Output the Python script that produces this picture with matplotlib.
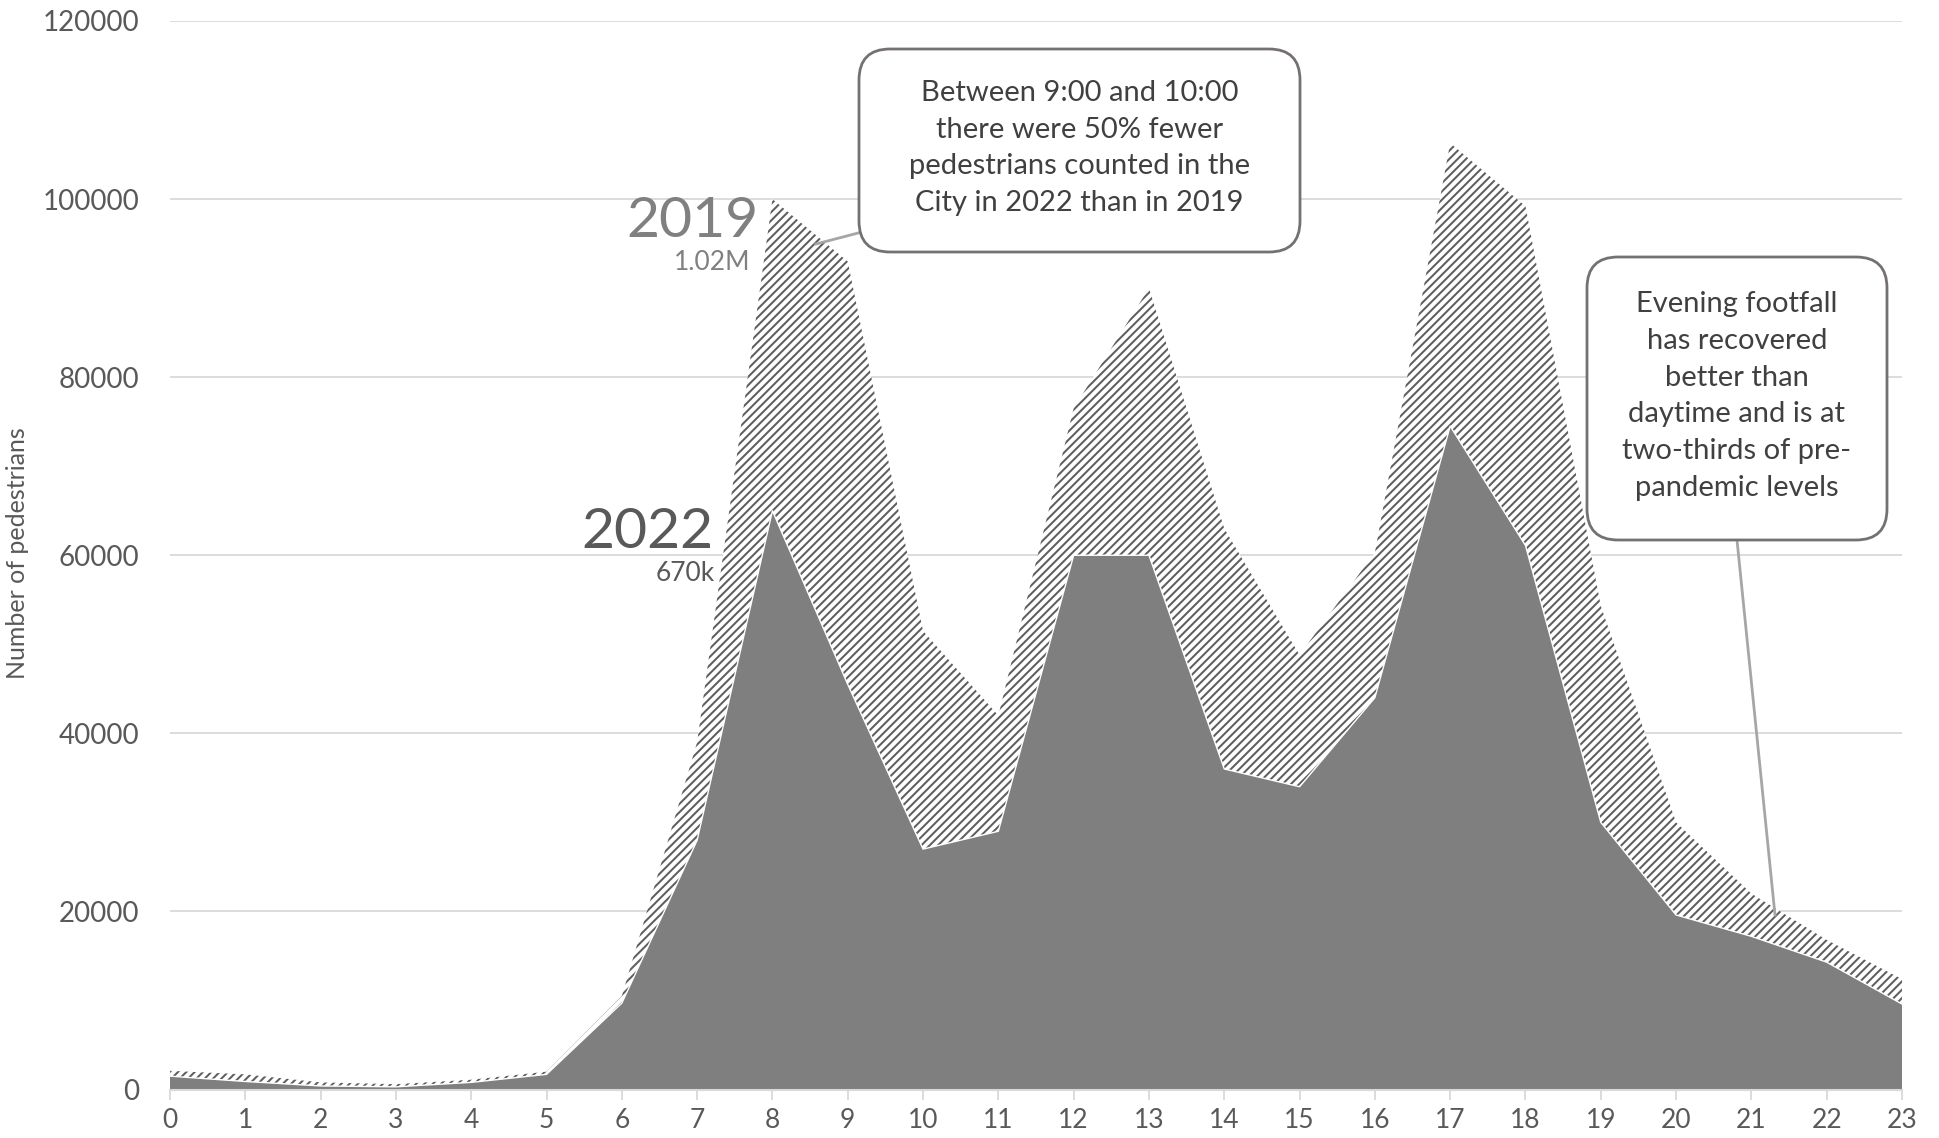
import matplotlib
matplotlib.use("Agg")
import matplotlib.pyplot as plt
from matplotlib.patches import FancyBboxPatch
from matplotlib.lines import Line2D

hours = list(range(24))
v2019 = [2100, 1700, 800, 600, 1100, 2000, 10500, 39000, 100000, 93000, 51500, 42000,
         76500, 90000, 63000, 48800, 60300, 106300, 99200, 54300, 30000, 22000, 16800, 12400]
v2022 = [1500, 900, 400, 300, 800, 1700, 9700, 28000, 65000, 45500, 27000, 29000,
         60000, 60000, 36000, 34000, 44000, 74500, 61100, 30000, 19600, 17200, 14300, 9600]
yticks = [0, 20000, 40000, 60000, 80000, 100000, 120000]
ylabel = "Number of pedestrians"
note1 = "Between 9:00 and 10:00\nthere were 50% fewer\npedestrians counted in the\nCity in 2022 than in 2019"
note2 = "Evening footfall\nhas recovered\nbetter than\ndaytime and is at\ntwo-thirds of pre-\npandemic levels"

plt.rcParams['font.family'] = ['Lato', 'DejaVu Sans']
plt.rcParams['hatch.linewidth'] = 1.45

W, H = 1939, 1138
fig = plt.figure(figsize=(W / 100, H / 100), dpi=100)
ax = fig.add_axes([170 / W, 1 - 1089.5 / H, (1902 - 170) / W, (1089.5 - 21) / H])

ax.fill_between(hours, 0, v2019, facecolor='white', edgecolor='#5e5e5e', hatch='////', linewidth=0, zorder=2)
ax.fill_between(hours, 0, v2022, facecolor='#7f7f7f', edgecolor='none', linewidth=0, zorder=3)
ax.plot(hours, v2022, color='white', lw=1.0, zorder=4)

ax.set_xlim(0, 23)
ax.set_ylim(0, 120000)
ax.set_xticks(hours)
ax.set_xticklabels([str(h) for h in hours])
ax.set_yticks(yticks)
ax.set_yticklabels([str(t) for t in yticks])
ax.grid(axis='y', color='#d9d9d9', lw=1.3, zorder=0)
ax.set_axisbelow(True)
for s in ['top', 'right', 'left']:
    ax.spines[s].set_visible(False)
ax.spines['bottom'].set_color('#d9d9d9')
ax.spines['bottom'].set_linewidth(1.5)
ax.spines['bottom'].set_zorder(5)
ax.tick_params(axis='x', colors='#d9d9d9', length=7, width=1.3, labelcolor='#595959', labelsize=19, pad=6)
ax.tick_params(axis='y', length=0, labelcolor='#595959', labelsize=20, pad=22)

fig.text(18 / W, 1 - 553 / H, ylabel, rotation=90, ha='center', va='center', color='#595959', fontsize=18)

# series labels
ax.text(7.81, 97500, "2019", ha='right', va='center', fontsize=41, color='#808080', zorder=6)
ax.text(7.71, 92900, "1.02M", ha='right', va='center', fontsize=19, color='#808080', zorder=6)
ax.text(7.22, 62600, "2022", ha='right', va='center', fontsize=41, color='#595959', zorder=6)
ax.text(7.24, 58000, "670k", ha='right', va='center', fontsize=19, color='#595959', zorder=6)

# connector lines
fig.add_artist(Line2D([816 / W, 862 / W], [1 - 244 / H, 1 - 232 / H], color='#a6a6a6', lw=2.0, zorder=7))
fig.add_artist(Line2D([1737 / W, 1775 / W], [1 - 540 / H, 1 - 915 / H], color='#a6a6a6', lw=2.0, zorder=7))

# boxes
def box(x0, y0, x1, y1):
    p = FancyBboxPatch((x0 / W, 1 - y1 / H), (x1 - x0) / W, (y1 - y0) / H,
                       boxstyle="round,pad=0,rounding_size=0.016",
                       transform=fig.transFigure, facecolor='white', edgecolor='#767171',
                       lw=2.0, zorder=8, mutation_aspect=W / H)
    fig.add_artist(p)

box(859, 49, 1300, 252)
box(1587, 257, 1887, 540)
fig.text(1079.5 / W, 1 - 148 / H, note1, ha='center', va='center', fontsize=21,
         color='#404040', linespacing=1.52, zorder=9)
fig.text(1737 / W, 1 - 396 / H, note2, ha='center', va='center', fontsize=21,
         color='#404040', linespacing=1.52, zorder=9)

fig.savefig("out.png", dpi=100)
